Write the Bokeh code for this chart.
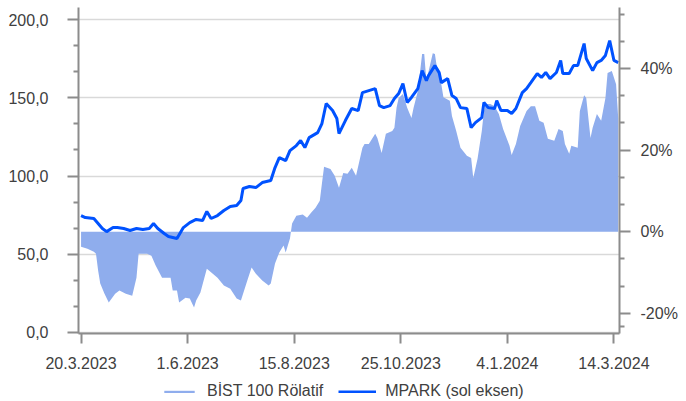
from bokeh.plotting import figure
from bokeh.layouts import column
from bokeh.models import Range1d, LinearAxis, FixedTicker, Legend, LegendItem, Grid
from bokeh.embed import file_html
from bokeh.resources import INLINE

# ---- data (x = trading-day index since 20.3.2023) ----
mpark_day = [0, 2, 6, 8, 10, 12, 15, 17, 20, 23, 26, 29, 32, 34, 36, 39, 41, 45, 48, 51,
             54, 57, 59, 61, 64, 67, 70, 73, 75, 76, 79, 82, 85, 89, 91, 93, 96, 98, 101, 103,
             105, 107, 111, 113, 115, 118, 120, 121, 124, 127, 130, 132, 135, 138, 140, 142,
             145, 147, 149, 151, 153, 155, 158, 160, 162, 163, 166, 168, 169, 172, 174, 176,
             178, 181, 183, 185, 188, 189, 191, 194, 195, 197, 200, 202, 204, 207, 209, 211,
             214, 216, 218, 220, 223, 225, 226, 229, 231, 233, 236, 237, 240, 242, 244, 246,
             248, 250, 252]
mpark = [74.7, 73.4, 72.8, 69.6, 66.4, 64.4, 67.0, 67.0, 66.4, 65.1, 66.4, 65.7, 66.4, 69.6,
         66.4, 63.2, 61.3, 60.0, 67.0, 70.2, 72.2, 71.5, 77.3, 72.8, 74.7, 77.9, 80.5, 81.1,
         84.3, 92.0, 93.3, 92.6, 95.8, 97.1, 105.4, 111.8, 109.9, 116.3, 119.5, 122.7, 118.2,
         124.6, 127.8, 133.6, 146.4, 141.9, 136.8, 127.2, 135.5, 143.2, 141.9, 153.4, 154.7,
         156.0, 145.1, 143.8, 145.1, 149.6, 152.8, 159.2, 147.1, 150.3, 156.0, 167.5, 161.1,
         164.3, 170.7, 166.2, 159.8, 162.4, 151.5, 149.6, 143.8, 143.2, 131.0, 134.2, 137.4,
         147.1, 143.8, 143.2, 148.3, 141.9, 141.9, 140.0, 143.2, 153.4, 156.0, 159.8, 165.6,
         163.1, 166.3, 162.4, 166.3, 174.0, 165.6, 165.6, 170.7, 170.7, 184.8, 175.2, 167.5,
         172.6, 174.0, 177.2, 186.7, 174.0, 172.6]

bist_day = [0, 3, 6, 7, 8, 9, 11, 13, 16, 18, 21, 24, 26, 27, 31, 33, 35, 38, 40, 42, 43, 45,
            46, 49, 51, 53, 54, 56, 59, 60, 64, 67, 70, 73, 75, 78, 80, 82, 85, 88, 89, 91, 93,
            95, 96, 98, 99, 101, 104, 106, 108, 110, 112, 113, 114, 117, 119, 121, 123, 125,
            127, 129, 132, 133, 135, 138, 139, 141, 143, 146, 147, 148, 149, 151, 153, 155,
            156, 158, 160, 161, 162, 165, 166, 167, 169, 170, 173, 174, 176, 178, 181, 183,
            184, 186, 188, 189, 190, 192, 194, 196, 198, 201, 202, 204, 206, 209, 211, 213,
            215, 217, 219, 222, 224, 226, 227, 229, 230, 233, 234, 236, 237, 239, 240, 242,
            244, 246, 247, 249, 251, 252]
bist_rel = [-3.7, -4.2, -4.9, -5.4, -9.5, -12.7, -15.2, -17.4, -15.2, -14.4, -15.2, -15.7,
            -11.3, -5.4, -5.4, -5.9, -8.3, -11.3, -11.3, -11.3, -14.4, -14.4, -17.4, -16.2,
            -16.4, -18.6, -16.9, -14.9, -9.1, -9.5, -11.3, -13.2, -14.0, -16.4, -16.9, -12.0,
            -8.8, -10.3, -12.0, -13.2, -12.7, -7.8, -5.1, -3.4, -5.1, -1.7, 2.0, 3.9, 4.2, 3.4,
            4.7, 5.9, 7.6, 11.8, 15.9, 15.4, 13.7, 10.8, 14.4, 14.2, 15.7, 13.7, 20.6, 21.5,
            21.5, 24.0, 23.0, 19.3, 24.0, 24.7, 25.5, 30.4, 32.8, 33.8, 30.4, 27.9, 30.4, 34.5,
            43.6, 43.6, 37.0, 43.8, 43.6, 40.1, 36.2, 33.0, 32.1, 28.4, 24.7, 20.6, 18.6, 18.1,
            13.2, 17.9, 24.7, 29.6, 31.3, 31.3, 30.8, 28.9, 25.2, 21.1, 18.8, 21.5, 25.9, 29.6,
            30.8, 30.8, 27.2, 26.7, 22.8, 22.3, 25.2, 24.7, 21.5, 19.1, 21.1, 20.6, 29.6, 33.5,
            32.8, 23.0, 25.5, 28.9, 27.2, 32.8, 38.9, 39.4, 36.2, 27.9]

date_ticks = [0, 50, 100, 150, 200, 250]
date_labels = ["20.3.2023", "1.6.2023", "15.8.2023", "25.10.2023", "4.1.2024", "14.3.2024"]
left_ticks = [0, 50, 100, 150, 200]
left_labels = ["0,0", "50,0", "100,0", "150,0", "200,0"]
right_ticks = [-20, 0, 20, 40]
right_labels = ["-20%", "0%", "20%", "40%"]
series_names = ["BİST 100 Rölatif", "MPARK (sol eksen)"]

FONT = "Liberation Sans"
TXT = "#404040"
AX = "#8c8c8c"
AREA = "#8FADED"
LINE = "#0052FF"

p = figure(width=680, height=378, output_backend="svg", toolbar_location=None,
           x_range=Range1d(-1.2, 252.6), y_range=Range1d(-0.83, 207.9),
           min_border_left=78, min_border_right=59, min_border_top=7, min_border_bottom=45,
           x_axis_location=None, y_axis_location=None)
p.grid.visible = False
p.outline_line_color = None
p.extra_y_ranges = {"pct": Range1d(-24.98, 55.0)}

p.varea(x=bist_day, y1=[0] * len(bist_day), y2=bist_rel, y_range_name="pct",
        fill_color=AREA, fill_alpha=1.0)
p.line(x=mpark_day, y=mpark, line_color=LINE, line_width=3)


def style(ax, major_out, minor_out, standoff):
    ax.axis_line_color = AX
    ax.axis_line_width = 2
    ax.major_tick_line_color = AX
    ax.major_tick_line_width = 2
    ax.minor_tick_line_color = AX
    ax.minor_tick_line_width = 2
    ax.major_tick_in = 0
    ax.major_tick_out = major_out
    ax.minor_tick_in = 0
    ax.minor_tick_out = minor_out
    ax.major_label_text_font = FONT
    ax.major_label_text_font_size = "16px"
    ax.major_label_text_color = TXT
    ax.major_label_standoff = standoff


left_minor = [16.67, 33.33, 66.67, 83.33, 116.67, 133.33, 166.67, 183.33]
yl = LinearAxis(ticker=FixedTicker(ticks=left_ticks, minor_ticks=left_minor),
                major_label_overrides=dict(zip(left_ticks, left_labels)))
style(yl, 11, 5, 19)
p.add_layout(yl, "left")

right_minor = [-23.33, -13.33, -6.67, 6.67, 13.33, 26.67, 33.33, 46.67, 53.33]
yr = LinearAxis(y_range_name="pct",
                ticker=FixedTicker(ticks=right_ticks, minor_ticks=right_minor),
                major_label_overrides=dict(zip(right_ticks, right_labels)))
style(yr, 11, 5, 10)
p.add_layout(yr, "right")

xa = LinearAxis(ticker=FixedTicker(ticks=date_ticks),
                major_label_overrides=dict(zip(date_ticks, date_labels)))
style(xa, 10, 0, 13)
xa.minor_tick_line_color = None
p.add_layout(xa, "below")

g = Grid(dimension=1, ticker=yl.ticker, grid_line_color="#d9d9d9", grid_line_width=1.5)
p.add_layout(g)

# ---- legend strip below the chart (key glyphs use the same series, kept out of view) ----
lg = figure(width=680, height=22, output_backend="svg", toolbar_location=None,
            x_range=Range1d(1000, 1001), y_range=Range1d(1000, 1001),
            min_border_left=0, min_border_right=0, min_border_top=0, min_border_bottom=0,
            x_axis_location=None, y_axis_location=None)
lg.grid.visible = False
lg.outline_line_color = None
k_area = lg.varea(x=bist_day, y1=[0] * len(bist_day), y2=bist_rel,
                  fill_color=AREA, fill_alpha=1.0)
k_line = lg.line(x=mpark_day, y=mpark, line_color=LINE, line_width=3)

legend = Legend(items=[LegendItem(label=series_names[0], renderers=[k_area]),
                       LegendItem(label=series_names[1], renderers=[k_line])],
                orientation="horizontal", location=(82, 0),
                label_text_font=FONT, label_text_font_size="16px", label_text_color=TXT,
                label_height=16, glyph_width=38, glyph_height=3, label_standoff=9, spacing=15,
                padding=0, margin=0, border_line_color=None, background_fill_alpha=0)
lg.add_layout(legend, "center")

layout = column(p, lg, spacing=0)
open("out.html", "w").write(file_html(layout, INLINE))
